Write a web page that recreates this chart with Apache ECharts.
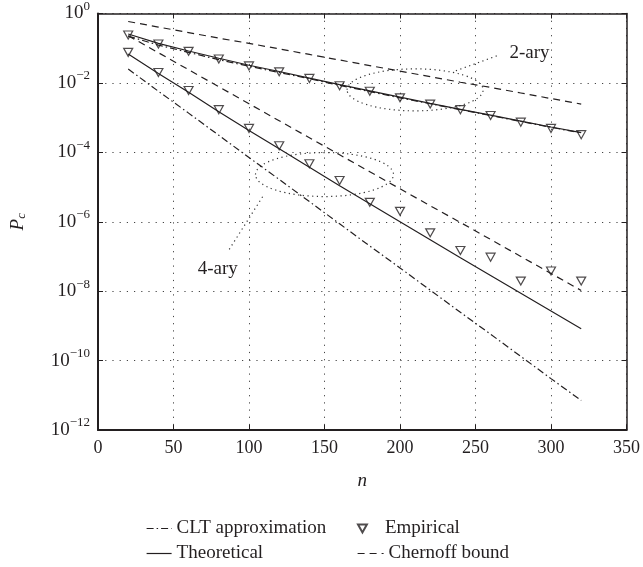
<!DOCTYPE html>
<html>
<head>
<meta charset="utf-8">
<script src="https://cdn.jsdelivr.net/npm/echarts@6/dist/echarts.min.js"></script>
<style>
html, body { margin: 0; padding: 0; background: #fff; }
#chart { width: 643px; height: 567px; }
</style>
</head>
<body>
<div id="chart"></div>
<script>
var nValues = [20, 40, 60, 80, 100, 120, 140, 160, 180, 200, 220, 240, 260, 280, 300, 320];

// values, as exponents: Pc = 10^value
var theo2 = [-0.59, -0.86, -1.08, -1.29, -1.49, -1.67, -1.86, -2.05, -2.23, -2.41, -2.59, -2.76, -2.93, -3.10, -3.27, -3.43];
var clt2 = [-0.65, -0.91, -1.12, -1.33, -1.52, -1.70, -1.88, -2.07, -2.25, -2.43, -2.60, -2.77, -2.94, -3.11, -3.28, -3.44];
var chern2 = [-0.23, -0.39, -0.55, -0.71, -0.86, -1.02, -1.18, -1.34, -1.50, -1.66, -1.82, -1.98, -2.13, -2.29, -2.45, -2.61];
var emp2 = [-0.62, -0.88, -1.09, -1.31, -1.51, -1.68, -1.87, -2.08, -2.24, -2.43, -2.61, -2.77, -2.94, -3.13, -3.31, -3.49];

var theo4 = [-1.17, -1.73, -2.27, -2.83, -3.37, -3.90, -4.43, -4.96, -5.48, -6.00, -6.52, -7.04, -7.55, -8.06, -8.57, -9.08];
var clt4 = [-1.60, -2.24, -2.87, -3.51, -4.15, -4.78, -5.42, -6.06, -6.70, -7.33, -7.97, -8.61, -9.24, -9.88, -10.52, -11.15];
var chern4 = [-0.64, -1.13, -1.62, -2.11, -2.60, -3.09, -3.58, -4.07, -4.56, -5.05, -5.54, -6.02, -6.51, -7.00, -7.49, -7.98];
var emp4 = [-1.12, -1.70, -2.22, -2.77, -3.31, -3.81, -4.33, -4.81, -5.44, -5.70, -6.32, -6.83, -7.02, -7.71, -7.42, -7.71];

var legendNames = ['CLT approximation', 'Theoretical', 'Empirical', 'Chernoff bound'];

var serif = '"Liberation Serif", "DejaVu Serif", serif';
var ink = '#231f20';
var dashDot = [7, 3, 1.5, 3];
var dashed = [7, 5];

function toPoints(exps) {
    return nValues.map(function (n, i) {
        return [n, exps[i]];
    });
}

function lineSeries(name, exps, type) {
    return {
        type: 'line',
        name: name,
        data: toPoints(exps),
        symbol: 'none',
        showSymbol: false,
        lineStyle: { color: ink, width: 1.2, type: type },
        itemStyle: { color: ink },
        animation: false
    };
}

function markerSeries(name, exps) {
    return {
        type: 'scatter',
        name: name,
        data: toPoints(exps),
        symbol: 'path://M0,0L10,0L5,9Z',
        symbolSize: [9, 8],
        itemStyle: { color: 'rgba(255,255,255,0)', borderColor: ink, borderWidth: 1.2 },
        z: 5,
        animation: false
    };
}

function powLabel(v) {
    var s = v === 0 ? '0' : '\u2212' + (-v);
    return '{b|10}{s|' + s + '}';
}

var chart = echarts.init(document.getElementById('chart'));

var gridLine = { show: true, lineStyle: { color: '#444', width: 1, type: [1.2, 6] } };
var legendText = { fontFamily: serif, fontSize: 19, color: ink };

function legendItem(name, left, top, w, h, extra) {
    var lg = {
        left: left, top: top, itemWidth: w, itemHeight: h, selectedMode: false,
        data: [name], textStyle: legendText
    };
    if (name !== legendNames[2]) {
        // line entries: keep the dash pattern, hide the marker
        lg.itemStyle = { opacity: 0 };
        lg.lineStyle = { width: 1.2 };
    }
    if (extra) lg.textStyle = Object.assign({}, legendText, extra);
    return lg;
}

chart.setOption({
    animation: false,
    backgroundColor: '#fff',
    grid: { left: 98, right: 16, top: 13, bottom: 137 },
    legend: [
        legendItem(legendNames[0], 141, 514, 25, 10),
        legendItem(legendNames[1], 141, 539, 25, 10),
        legendItem(legendNames[2], 352, 514, 9, 8, { padding: [0, 0, 0, 13] }),
        legendItem(legendNames[3], 352, 539, 26, 10)
    ],
    xAxis: [
        {
            type: 'value', min: 0, max: 350, interval: 50,
            name: 'n', nameLocation: 'middle', nameGap: 41,
            nameTextStyle: { fontFamily: serif, fontSize: 19, fontStyle: 'italic', color: ink },
            axisLine: { onZero: false, lineStyle: { color: ink, width: 2 } },
            axisTick: { inside: true, length: 5, lineStyle: { color: ink } },
            axisLabel: { margin: 9, fontFamily: serif, fontSize: 18, color: ink },
            splitLine: gridLine
        },
        {
            type: 'value', min: 0, max: 350, interval: 50, position: 'top',
            axisLine: { onZero: false, lineStyle: { color: ink, width: 1.5 } },
            axisTick: { inside: true, length: 5, lineStyle: { color: ink } },
            axisLabel: { show: false },
            splitLine: { show: false }
        }
    ],
    yAxis: [
        {
            type: 'value', min: -12, max: 0, interval: 2,
            name: '{p|P}{c|c}', nameLocation: 'middle', nameGap: 70, nameRotate: 90,
            nameTextStyle: {
                rich: {
                    p: { fontFamily: serif, fontSize: 19, fontStyle: 'italic', color: ink },
                    c: { fontFamily: serif, fontSize: 13, fontStyle: 'italic', color: ink, padding: [8, 0, 0, 0] }
                }
            },
            axisLine: { onZero: false, lineStyle: { color: ink, width: 2 } },
            axisTick: { inside: true, length: 5, lineStyle: { color: ink } },
            axisLabel: {
                margin: 8,
                formatter: powLabel,
                rich: {
                    b: { fontFamily: serif, fontSize: 19, color: ink },
                    s: { fontFamily: serif, fontSize: 13, color: ink, padding: [0, 0, 14, 0] }
                }
            },
            splitLine: gridLine
        },
        {
            type: 'value', min: -12, max: 0, interval: 2, position: 'right',
            axisLine: { onZero: false, lineStyle: { color: ink, width: 1.5 } },
            axisTick: { inside: true, length: 5, lineStyle: { color: ink } },
            axisLabel: { show: false },
            splitLine: { show: false }
        }
    ],
    series: [
        lineSeries(legendNames[1], theo2, 'solid'),
        lineSeries(legendNames[0], clt2, dashDot),
        lineSeries(legendNames[3], chern2, dashed),
        lineSeries(legendNames[1], theo4, 'solid'),
        lineSeries(legendNames[0], clt4, dashDot),
        lineSeries(legendNames[3], chern4, dashed),
        markerSeries(legendNames[2], emp2),
        markerSeries(legendNames[2], emp4)
    ]
});

// dotted ellipses and callout labels, anchored in data coordinates
function px(n, e) {
    return chart.convertToPixel({ xAxisIndex: 0, yAxisIndex: 0 }, [n, e]);
}
var dotted = { stroke: '#333', lineWidth: 1.2, lineDash: [1.2, 3.5], fill: null };
var c2 = px(210, -2.2), c4 = px(150, -4.64);
var a2 = px(237, -1.65), b2 = px(266, -1.19), t2 = px(272.5, -1.13);
var a4 = px(109, -5.28), b4 = px(86, -6.86), t4 = px(66, -7.35);

chart.setOption({
    graphic: [
        { type: 'ellipse', shape: { cx: c2[0], cy: c2[1], rx: 68, ry: 21 }, style: dotted, silent: true },
        { type: 'ellipse', shape: { cx: c4[0], cy: c4[1], rx: 69, ry: 22 }, style: dotted, silent: true },
        { type: 'line', shape: { x1: a2[0], y1: a2[1], x2: b2[0], y2: b2[1] }, style: dotted, silent: true },
        { type: 'line', shape: { x1: a4[0], y1: a4[1], x2: b4[0], y2: b4[1] }, style: dotted, silent: true },
        {
            type: 'text', x: t2[0], y: t2[1], silent: true,
            style: { text: '2-ary', fontFamily: serif, fontSize: 19, fill: ink, align: 'left', verticalAlign: 'middle' }
        },
        {
            type: 'text', x: t4[0], y: t4[1], silent: true,
            style: { text: '4-ary', fontFamily: serif, fontSize: 19, fill: ink, align: 'left', verticalAlign: 'middle' }
        }
    ]
});
</script>
</body>
</html>
